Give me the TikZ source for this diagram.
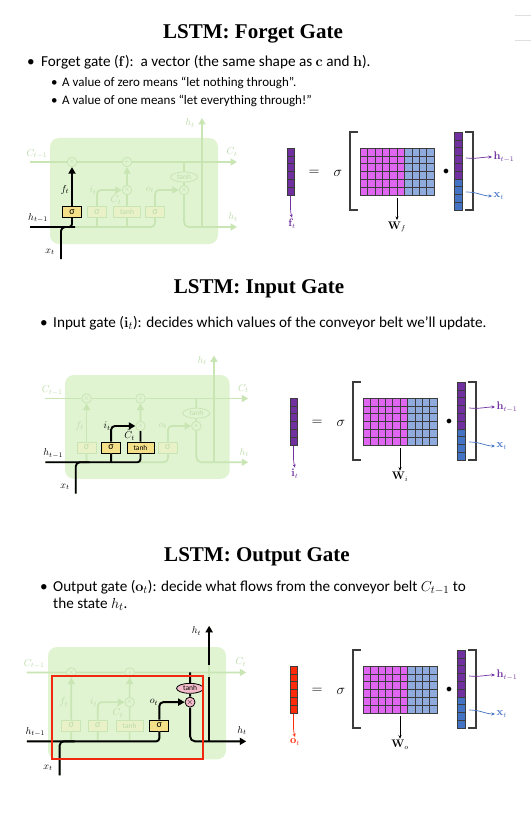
\documentclass[tikz,border=0pt]{standalone}
\usepackage[no-math]{fontspec}
\setmainfont{Carlito}
\newfontfamily\titlefont{Liberation Serif}
\usetikzlibrary{arrows.meta,shapes.geometric}
\definecolor{boxfill}{HTML}{E0F4D2}
\definecolor{fade}{HTML}{C8E5B3}
\definecolor{fadetext}{HTML}{BCDCA8}
\definecolor{fadebox}{HTML}{E8F1C8}
\definecolor{gateyel}{HTML}{F5E08A}
\definecolor{pinkop}{HTML}{F4BCCB}
\definecolor{magw}{HTML}{E066F2}
\definecolor{bluew}{HTML}{8FAADC}
\definecolor{purp}{HTML}{7030A0}
\definecolor{bluev}{HTML}{4472C4}
\definecolor{redv}{HTML}{FF2A0A}
\definecolor{redframe}{HTML}{F02810}
\definecolor{gridc}{HTML}{3C3C3C}
\tikzset{
  lbl/.style={font=\fontsize{10}{12}\selectfont, inner sep=0pt},
  flbl/.style={lbl, text=fadetext},
  fl/.style={draw=fade, line width=1.7pt},
  bl/.style={draw=black, line width=1.9pt},
  bigtip/.style={-{Triangle[length=6.5pt,width=7pt]}},
  fop/.style={circle, draw=fade, fill=boxfill, line width=0.8pt, inner sep=0pt, minimum size=9.5pt, text=fadetext, font=\fontsize{7}{7}\selectfont},
  fgate/.style={rectangle, draw=fade, fill=fadebox, line width=0.7pt, inner sep=0pt, minimum height=11pt, text=fadetext},
  sg/.style={minimum width=19pt, font=\fontsize{10}{10}\selectfont},
  thg/.style={minimum width=27pt, font=\fontsize{7.5}{7.5}\selectfont},
  agate/.style={rectangle, draw=black, fill=gateyel, line width=0.8pt, inner sep=0pt, minimum height=11pt, text=black},
  fell/.style={ellipse, draw=fade, fill=boxfill, line width=0.8pt, inner sep=0pt, minimum width=27pt, minimum height=10pt, text=fadetext, font=\fontsize{7.5}{7.5}\selectfont},
  aell/.style={ellipse, draw=black, fill=pinkop, line width=0.8pt, inner sep=0pt, minimum width=27pt, minimum height=10pt, font=\fontsize{7.5}{7.5}\selectfont},
  aop/.style={circle, draw=black, fill=pinkop, line width=0.8pt, inner sep=0pt, minimum size=10pt, font=\fontsize{8}{8}\selectfont},
  % per-diagram overridable element styles
  sfS/.style={fgate,sg}, siS/.style={fgate,sg}, tbS/.style={fgate,thg}, soS/.style={fgate,sg},
  thS/.style={fell}, oxS/.style={fop},
  lfS/.style={flbl}, liS/.style={flbl}, loS/.style={flbl}, lccS/.style={flbl},
  lhtS/.style={flbl}, lhbS/.style={flbl},
  cellbox/.style={draw=gridc, line width=0.5pt},
  brk/.style={draw=gridc, line width=1.1pt},
  thinarrow/.style={-{Stealth[length=3.5pt,width=3pt]}, line width=0.7pt},
  ttl/.style={font=\titlefont\bfseries\fontsize{21}{25}\selectfont, inner sep=0pt, anchor=base},
  btxt/.style={font=\fontsize{15.2}{18}\selectfont, inner sep=0pt, anchor=base west},
  stxt/.style={font=\fontsize{13}{15}\selectfont, inner sep=0pt, anchor=base west},
  mlbl/.style={font=\fontsize{10.5}{12}\selectfont, inner sep=1.5pt},
  msym/.style={font=\fontsize{14}{14}\selectfont, inner sep=0pt},
}
\newcommand{\lstmbase}{%
  \fill[boxfill, rounded corners=9pt] (0,0) rectangle (168,106);
  \coordinate (cin) at (-20,24);
  \coordinate (cout) at (187,24);
  \coordinate (tj) at (134,24);
  \coordinate (hin) at (-20,89);
  \coordinate (hout) at (187,89);
  \coordinate (hj) at (152,89);
  \coordinate (htop) at (152,-20);
  \coordinate (xin) at (11,121);
  \coordinate (xj) at (25,89);
  \coordinate (gapb) at (152,28);
  \coordinate (gapt) at (152,17);
  \node[fop] (fx) at (22,24) {$\times$};
  \node[fop] (px) at (77,24) {$+$};
  \node[fop] (ix) at (77,52) {$\times$};
  \node[oxS] (ox) at (134,52) {$\times$};
  \node[thS] (th) at (134,39) {tanh};
  \node[sfS] (sf) at (22,74) {σ};
  \node[siS] (si) at (47,74) {σ};
  \node[tbS] (tb) at (77,74) {tanh};
  \node[soS] (so) at (105,74) {σ};
  \draw[fl, bigtip] (cin) -- (fx) -- (px) -- (cout);
  \draw[fl, rounded corners=4pt] (hin) -| (so);
  \draw[fl] (sf |- hin) -- (sf);
  \draw[fl, bigtip] (sf) -- (fx);
  \draw[fl] (si |- hin) -- (si);
  \draw[fl, bigtip, rounded corners=4pt] (si) |- (ix);
  \draw[fl] (tb |- hin) -- (tb);
  \draw[fl] (tb) -- (ix);
  \draw[fl, bigtip] (ix) -- (px);
  \draw[fl, bigtip, rounded corners=4pt] (so) |- (ox);
  \draw[fl] (tj) -- (th) -- (ox);
  \draw[fl, bigtip, rounded corners=5pt] (ox) |- (hout);
  \draw[fl, bigtip] (hj) -- (htop);
  \draw[fl, rounded corners=4pt] (xin) |- (xj);
  \node[flbl] (lc1) at (-13,16) {$C_{t-1}$};
  \node[flbl] (lct) at (182,14) {$C_t$};
  \node[lhtS] (lht) at (140,-15) {$h_t$};
  \node[lhbS] (lhb) at (183,79) {$h_t$};
  \node[lfS] (lf) at (15,52) {$f_t$};
  \node[liS] (li) at (43,52) {$i_t$};
  \node[loS] (lo) at (100,52) {$o_t$};
  \node[lccS] (lcc) at (66,61) {$\tilde{C}_t$};
  \node[lbl] (lh1) at (-12,80) {$h_{t-1}$};
  \node[lbl] (lx) at (0,114) {$x_t$};
}
% #1 vector colour, #2 vector letter, #3 W subscript, #4 label colour
\newcommand{\matgroup}[4]{%
  \foreach \r in {0,...,5}
    \draw[cellbox, fill=#1] (-73,\r*7.8) rectangle ++(7.6,7.8);
  \foreach \r in {0,...,5} {
    \foreach \c in {0,...,5}
      \draw[cellbox, fill=magw] (\c*7.4,\r*7.8) rectangle ++(7.4,7.8);
    \foreach \c in {6,...,9}
      \draw[cellbox, fill=bluew] (\c*7.4,\r*7.8) rectangle ++(7.4,7.8);
  }
  \foreach \r in {0,...,5}
    \draw[cellbox, fill=purp] (94.5,-16+\r*7.8) rectangle ++(7.6,7.8);
  \foreach \r in {6,...,9}
    \draw[cellbox, fill=bluev] (94.5,-16+\r*7.8) rectangle ++(7.6,7.8);
  \draw[brk] (-2,-16) -- (-10,-16) -- (-10,62) -- (-2,62);
  \draw[brk] (105,-16) -- (113,-16) -- (113,62) -- (105,62);
  \node[msym] (eq) at (-46,25) {$=$};
  \node[msym] (sig) at (-22,25) {$\sigma$};
  \node[msym, font=\fontsize{12}{12}\selectfont] (dt) at (86,24) {$\bullet$};
  \coordinate (wa) at (37,50);
  \node[mlbl] (wl) at (37,79) {$\mathbf{W}_{#3}$};
  \draw[thinarrow] (wa) -- (wl.north);
  \coordinate (va) at (-69.5,48);
  \node[mlbl, text=#4] (vl) at (-68,76) {$\mathbf{#2}_t$};
  \draw[thinarrow, draw=#4] (va) .. controls +(0,7) and +(-2,-7) .. (vl.north);
  \coordinate (ha) at (106,10);
  \node[mlbl, text=purp, anchor=west] (hl) at (132,9) {$\mathbf{h}_{t-1}$};
  \draw[thinarrow, draw=purp] (ha) .. controls +(12,1) and +(-10,0) .. (hl.west);
  \coordinate (xa) at (106,44);
  \node[mlbl, text=bluev, anchor=west] (xl) at (132,48) {$\mathbf{x}_t$};
  \draw[thinarrow, draw=bluev] (xa) .. controls +(12,0) and +(-10,0) .. (xl.west);
}
\begin{document}
\begin{tikzpicture}[x=1pt,y=-1pt]
\useasboundingbox[fill=white] (0,0) rectangle (531,813);
\draw[gray!25, line width=0.6pt] (515,15) -- (531,15);
\draw[gray!25, line width=0.6pt] (515,40) -- (531,40);

% ---------- Forget gate ----------
\node[ttl] (title1) at (253,39) {LSTM: Forget Gate};
\node[btxt] (b1) at (27,67) {•};
\node[btxt] (t1) at (41,67) {Forget gate ($\mathbf{f}$):\ \ a vector (the same shape as $\mathbf{c}$ and $\mathbf{h}$).};
\node[stxt] (b1a) at (51,87) {•};
\node[stxt] (t1a) at (62,87) {A value of zero means “let nothing through”.};
\node[stxt] (b1b) at (51,105) {•};
\node[stxt] (t1b) at (62,105) {A value of one means “let everything through!”};

\begin{scope}[shift={(50,138)}, name prefix=fg-, sfS/.style={agate,sg}, lfS/.style={lbl}]
  \lstmbase
  \draw[bl, rounded corners=3pt] (hin) -| (sf);
  \draw[bl, bigtip] (sf) -- (fx);
  \draw[bl, rounded corners=4pt] (xin) |- (xj);
\end{scope}
\begin{scope}[shift={(360,148)}, name prefix=fm-]
  \matgroup{purp}{f}{f}{purp}
\end{scope}

% ---------- Input gate ----------
\node[ttl] (title2) at (259,293) {LSTM: Input Gate};
\node[btxt] (b2) at (40,327) {•};
\node[btxt] (t2) at (53,327) {Input gate ($\mathbf{i}_t$): decides which values of the conveyor belt we’ll update.};

\begin{scope}[shift={(65,375)}, scale=0.98, name prefix=ig-,
    siS/.style={agate,sg}, tbS/.style={agate,thg}, liS/.style={lbl}, lccS/.style={lbl}]
  \lstmbase
  \draw[bl, rounded corners=3pt] (hin) -| (tb);
  \draw[bl] (si |- hin) -- (si);
  \draw[bl, bigtip, rounded corners=4pt] (si) |- (ix);
  \draw[bl] (tb) -- (ix);
  \draw[bl, rounded corners=4pt] (xin) |- (xj);
\end{scope}
\begin{scope}[shift={(363,398)}, name prefix=im-]
  \matgroup{purp}{i}{i}{purp}
\end{scope}

% ---------- Output gate ----------
\node[ttl] (title3) at (257,561) {LSTM: Output Gate};
\node[btxt] (b3) at (40,591) {•};
\node[btxt] (t3) at (53,591) {Output gate ($\mathbf{o}_t$): decide what flows from the conveyor belt $C_{t-1}$ to};
\node[btxt] (t3b) at (53,608) {the state $h_t$.};

\begin{scope}[shift={(48,647)}, scale=1.06, name prefix=og-,
    soS/.style={agate,sg}, thS/.style={aell}, oxS/.style={aop},
    loS/.style={lbl}, lhtS/.style={lbl}, lhbS/.style={lbl}]
  \lstmbase
  \draw[bl, rounded corners=3pt] (hin) -| (so);
  \draw[bl, bigtip, rounded corners=4pt] (so) |- (ox);
  \draw[bl] (tj) -- (th) -- (ox);
  \draw[bl, bigtip, rounded corners=5pt] (ox) |- (hout);
  \draw[bl] (hj) -- (gapb);
  \draw[bl, bigtip] (gapt) -- (htop);
  \draw[bl, rounded corners=4pt] (xin) |- (xj);
\end{scope}
\draw[draw=redframe, line width=2pt] (52,676) rectangle (203,759);
\begin{scope}[shift={(363,666)}, name prefix=om-]
  \matgroup{redv}{o}{o}{redv}
\end{scope}
\end{tikzpicture}
\end{document}
